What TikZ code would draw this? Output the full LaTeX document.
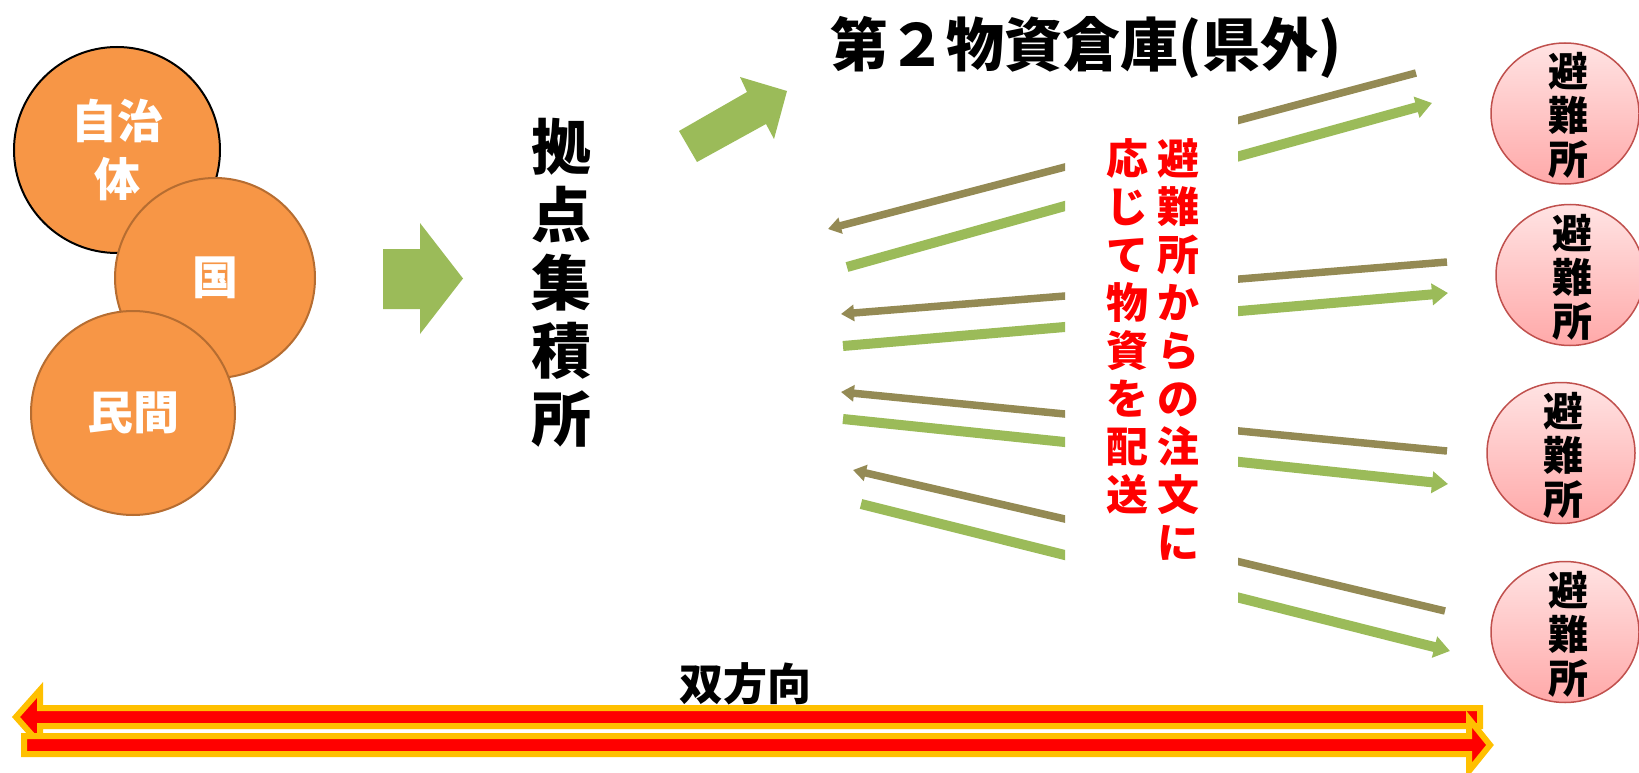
\documentclass[tikz,border=0pt]{standalone}
\usepackage{fontspec}
\usetikzlibrary{arrows.meta,shapes.geometric}
\IfFontExistsTF{Noto Sans CJK JP Black}{\newfontfamily\jp{Noto Sans CJK JP Black}}{%
  \IfFontExistsTF{Noto Sans CJK JP Bold}{\newfontfamily\jp{Noto Sans CJK JP Bold}}{%
    \newfontfamily\jp{Noto Sans CJK JP}[FakeBold=2]}}
\definecolor{corange}{HTML}{F79646}
\definecolor{corangeb}{HTML}{B66D31}
\definecolor{cgreen}{HTML}{9BBB59}
\definecolor{cbrown}{HTML}{948A54}
\definecolor{cpinkt}{HTML}{FFE3E3}
\definecolor{cpinkb}{HTML}{FFA9A9}
\definecolor{cpinkd}{HTML}{C0504D}
\definecolor{cyel}{HTML}{FFC000}
\tikzset{
 srcnode/.style={circle, fill=corange, draw=corangeb, line width=2pt, inner sep=0pt, text=white, align=center, font=\jp\fontsize{46}{58}\selectfont},
 shelter/.style={ellipse, minimum width=148pt, minimum height=141pt, draw=cpinkd, line width=1.5pt, top color=cpinkt, bottom color=cpinkb, inner sep=0pt},
 sheltertext/.style={inner sep=0pt, align=center, font=\jp\fontsize{40}{44}\selectfont},
 hubtext/.style={inner sep=0pt, align=center, font=\jp\fontsize{60}{68}\selectfont},
 ordertext/.style={inner sep=0pt, align=center, text=red, font=\jp\fontsize{42}{48}\selectfont},
 titletext/.style={inner sep=0pt, font=\jp\fontsize{58}{60}\selectfont},
 labeltext/.style={inner sep=0pt, font=\jp\fontsize{44}{46}\selectfont},
 order/.style={draw=cbrown, line width=7.5pt},
 orderarrow/.style={order, -{Triangle[length=13pt,width=16pt]}},
 supply/.style={draw=cgreen, line width=10pt},
 supplyarrow/.style={supply, -{Triangle[length=16pt,width=21pt]}},
 blockarrow/.style={fill=cgreen},
 bigarrow/.style={fill=red, draw=cyel, line width=6pt, line join=miter},
}
\begin{document}
\begin{tikzpicture}[x=1pt,y=-1pt]
\useasboundingbox (0,0) rectangle (1639,773);
\fill[white] (0,0) rectangle (1639,773);

% sources
\node[srcnode, draw=black, minimum size=206pt] (jichitai) at (117,150) {自治\\体};
\node[srcnode, minimum size=200pt] (kuni) at (215,278) {国};
\node[srcnode, minimum size=204pt] (minkan) at (133,413) {民間};

% arrow to hub
\fill[blockarrow] (383,249) -- (420,249) -- (420,223) -- (463,278.5) -- (420,334) -- (420,309) -- (383,309) -- cycle;

% hub
\node[hubtext] (hub) at (561,283) {拠\\点\\集\\積\\所};

% arrow to warehouse
\fill[blockarrow] (679,131) -- (747,92) -- (740,77) -- (787,91) -- (774,139) -- (766,124) -- (697,162) -- cycle;

% title
\node[titletext] (warehouse) at (1086,47) {第２物資倉庫(県外)};

% shelters
\node[shelter] (s1) at (1565,113.5) {};
\node[shelter] (s2) at (1570,275) {};
\node[shelter] (s3) at (1561,453) {};
\node[shelter] (s4) at (1565,632) {};
\node[sheltertext] (s1t) at ([xshift=3pt,yshift=-2pt]s1.center) {避\\難\\所};
\node[sheltertext] (s2t) at ([xshift=2pt,yshift=-2pt]s2.center) {避\\難\\所};
\node[sheltertext] (s3t) at ([xshift=2pt,yshift=-2pt]s3.center) {避\\難\\所};
\node[sheltertext] (s4t) at ([xshift=3pt,yshift=-2pt]s4.center) {避\\難\\所};

% left group coordinates
\coordinate (bl1i) at (1080,163.1); \coordinate (bl1o) at (828,229);
\coordinate (gl1i) at (1080,201.8); \coordinate (gl1o) at (847,267);
\coordinate (bl2i) at (1080,294.8); \coordinate (bl2o) at (841,314);
\coordinate (gl2i) at (1080,325.7); \coordinate (gl2o) at (843,346);
\coordinate (bl3i) at (1080,415.5); \coordinate (bl3o) at (841,392);
\coordinate (gl3i) at (1080,443.6); \coordinate (gl3o) at (843,419);
\coordinate (bl4i) at (1080,522.5); \coordinate (bl4o) at (853,470);
\coordinate (gl4i) at (1080,558.8); \coordinate (gl4o) at (861,504);
\begin{scope}
\clip (0,0) rectangle (1065,773);
\draw[orderarrow] (bl1i) -- (bl1o);
\draw[supply] (gl1i) -- (gl1o);
\draw[orderarrow] (bl2i) -- (bl2o);
\draw[supply] (gl2i) -- (gl2o);
\draw[orderarrow] (bl3i) -- (bl3o);
\draw[supply] (gl3i) -- (gl3o);
\draw[orderarrow] (bl4i) -- (bl4o);
\draw[supply] (gl4i) -- (gl4o);
\end{scope}

% right group coordinates
\coordinate (br1i) at (1225,124.0); \coordinate (br1o) at (1416,73);
\coordinate (gr1i) at (1225,160.1); \coordinate (gr1o) at (1432,103);
\coordinate (br2i) at (1225,280.2); \coordinate (br2o) at (1447,262);
\coordinate (gr2i) at (1225,312.3); \coordinate (gr2o) at (1448,293);
\coordinate (br3i) at (1225,429.6); \coordinate (br3o) at (1447,451);
\coordinate (gr3i) at (1225,460.4); \coordinate (gr3o) at (1448,484);
\coordinate (br4i) at (1225,558.4); \coordinate (br4o) at (1445,611);
\coordinate (gr4i) at (1225,594.2); \coordinate (gr4o) at (1450,651);
\begin{scope}
\clip (1238,0) rectangle (1639,773);
\draw[order] (br1i) -- (br1o);
\draw[supplyarrow] (gr1i) -- (gr1o);
\draw[order] (br2i) -- (br2o);
\draw[supplyarrow] (gr2i) -- (gr2o);
\draw[order] (br3i) -- (br3o);
\draw[supplyarrow] (gr3i) -- (gr3o);
\draw[order] (br4i) -- (br4o);
\draw[supplyarrow] (gr4i) -- (gr4o);
\end{scope}

% red vertical text
\node[ordertext, anchor=north] (orderR) at (1178,138) {避\\難\\所\\か\\ら\\の\\注\\文\\に};
\node[ordertext, anchor=north] (orderL) at (1127,138) {応\\じ\\て\\物\\資\\を\\配\\送};

% bidirectional
\node[labeltext] (bidir) at (745,684) {双方向};
\draw[bigarrow] (1480,708) -- (40,708) -- (40,690) -- (16,717) -- (40,744) -- (40,726) -- (1480,726) -- cycle;
\draw[bigarrow] (24,736) -- (1469,736) -- (1469,719) -- (1490,745) -- (1469,771) -- (1469,754) -- (24,754) -- cycle;
\end{tikzpicture}
\end{document}
